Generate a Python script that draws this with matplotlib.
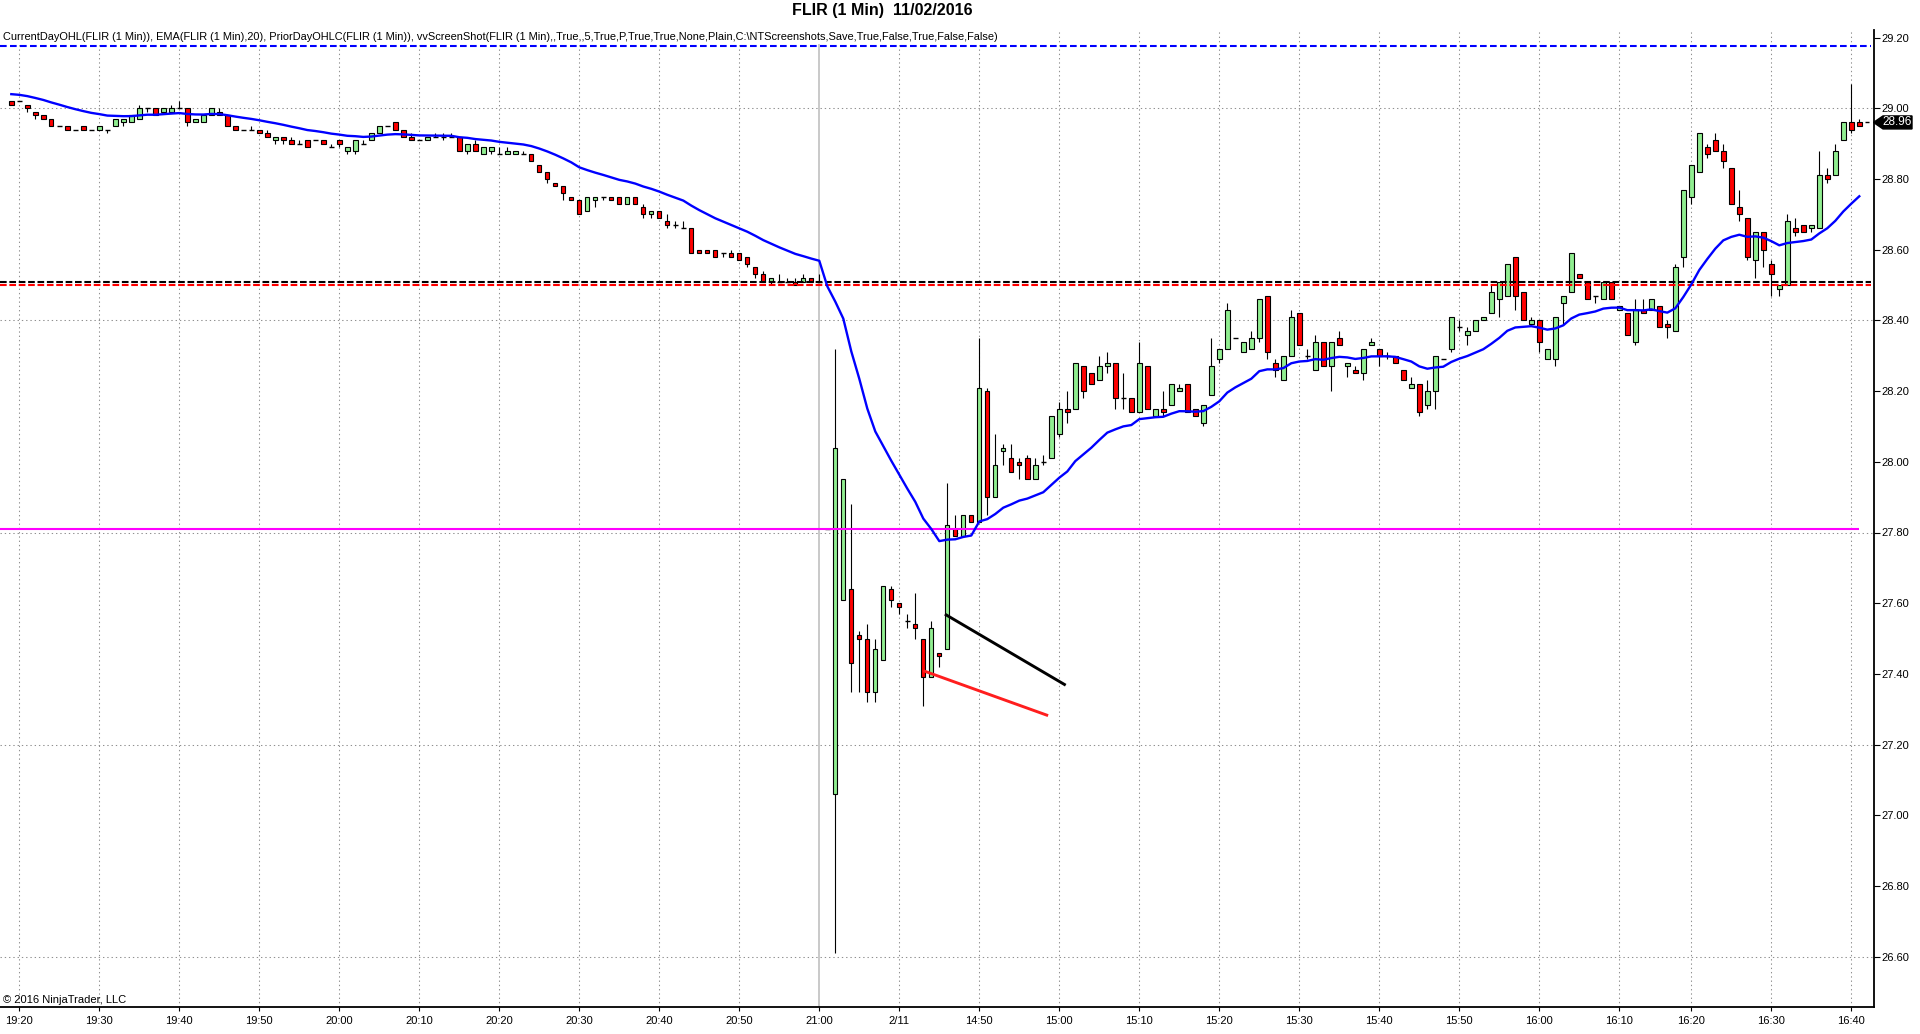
import numpy as np
import matplotlib
matplotlib.use("Agg")
import matplotlib.pyplot as plt
import matplotlib.transforms as mtransforms
from matplotlib.patches import Polygon

plt.rcParams['font.family'] = ['Liberation Sans', 'DejaVu Sans']

# ---------------- data ----------------
opens = [
 29.02, 29.02, 29.01, 28.99, 28.98, 28.97, 28.95, 28.95, 28.94, 28.95,
 28.94, 28.94, 28.94, 28.95, 28.96, 28.96, 28.97, 29.00, 29.00, 28.99,
 28.99, 29.00, 29.00, 28.96, 28.96, 28.98, 28.99, 28.98, 28.95, 28.94,
 28.94, 28.94, 28.93, 28.91, 28.92, 28.91, 28.90, 28.91, 28.91, 28.91,
 28.89, 28.91, 28.88, 28.88, 28.90, 28.91, 28.93, 28.95, 28.96, 28.94,
 28.92, 28.91, 28.91, 28.92, 28.92, 28.92, 28.92, 28.88, 28.90, 28.87,
 28.88, 28.87, 28.87, 28.87, 28.87, 28.87, 28.84, 28.82, 28.79, 28.78,
 28.75, 28.74, 28.71, 28.74, 28.75, 28.75, 28.75, 28.73, 28.75, 28.72,
 28.70, 28.71, 28.68, 28.67, 28.66, 28.66, 28.60, 28.60, 28.60, 28.59,
 28.59, 28.59, 28.58, 28.55, 28.53, 28.51, 28.51, 28.51, 28.51, 28.51,
 28.52, 28.51, 27.81, 27.06, 27.61, 27.64, 27.51, 27.50, 27.35, 27.44,
 27.64, 27.60, 27.55, 27.54, 27.50, 27.39, 27.46, 27.47, 27.81, 27.79,
 27.85, 27.83, 28.20, 27.90, 28.03, 28.01, 28.00, 28.01, 27.95, 28.00,
 28.01, 28.08, 28.15, 28.15, 28.27, 28.25, 28.23, 28.27, 28.28, 28.18,
 28.18, 28.14, 28.27, 28.13, 28.15, 28.16, 28.20, 28.22, 28.15, 28.11,
 28.19, 28.29, 28.32, 28.35, 28.31, 28.32, 28.35, 28.47, 28.28, 28.23,
 28.30, 28.42, 28.30, 28.26, 28.34, 28.27, 28.35, 28.27, 28.26, 28.25,
 28.33, 28.32, 28.30, 28.30, 28.26, 28.21, 28.22, 28.16, 28.20, 28.29,
 28.32, 28.38, 28.36, 28.37, 28.40, 28.42, 28.46, 28.47, 28.58, 28.48,
 28.39, 28.40, 28.29, 28.29, 28.45, 28.48, 28.53, 28.51, 28.47, 28.46,
 28.51, 28.43, 28.42, 28.34, 28.43, 28.43, 28.44, 28.39, 28.37, 28.58,
 28.75, 28.82, 28.89, 28.91, 28.88, 28.83, 28.72, 28.69, 28.57, 28.65,
 28.56, 28.49, 28.50, 28.66, 28.67, 28.66, 28.66, 28.81, 28.81, 28.91,
 28.96, 28.96]
highs = [
 29.02, 29.02, 29.01, 28.99, 28.98, 28.97, 28.95, 28.95, 28.94, 28.95,
 28.94, 28.95, 28.94, 28.97, 28.97, 28.98, 29.01, 29.00, 29.00, 29.00,
 29.01, 29.02, 29.00, 28.97, 28.98, 29.00, 29.00, 28.98, 28.95, 28.94,
 28.95, 28.94, 28.94, 28.92, 28.92, 28.92, 28.91, 28.91, 28.91, 28.91,
 28.90, 28.91, 28.89, 28.91, 28.91, 28.93, 28.95, 28.95, 28.96, 28.94,
 28.93, 28.91, 28.92, 28.93, 28.93, 28.93, 28.92, 28.90, 28.91, 28.89,
 28.89, 28.89, 28.89, 28.88, 28.88, 28.87, 28.84, 28.82, 28.79, 28.78,
 28.75, 28.74, 28.75, 28.75, 28.75, 28.75, 28.75, 28.75, 28.75, 28.73,
 28.71, 28.71, 28.70, 28.68, 28.68, 28.66, 28.60, 28.60, 28.60, 28.59,
 28.60, 28.59, 28.58, 28.55, 28.54, 28.52, 28.53, 28.52, 28.52, 28.53,
 28.52, 28.53, 27.81, 28.32, 27.95, 27.88, 27.52, 27.54, 27.50, 27.65,
 27.65, 27.60, 27.57, 27.63, 27.50, 27.55, 27.46, 27.94, 27.85, 27.85,
 27.85, 28.35, 28.21, 28.08, 28.05, 28.05, 28.01, 28.02, 28.01, 28.02,
 28.13, 28.17, 28.20, 28.28, 28.27, 28.25, 28.30, 28.31, 28.28, 28.25,
 28.18, 28.34, 28.27, 28.15, 28.20, 28.22, 28.22, 28.22, 28.15, 28.16,
 28.35, 28.32, 28.45, 28.35, 28.34, 28.37, 28.46, 28.47, 28.29, 28.30,
 28.43, 28.42, 28.32, 28.36, 28.34, 28.34, 28.37, 28.28, 28.27, 28.32,
 28.35, 28.32, 28.31, 28.30, 28.26, 28.24, 28.22, 28.23, 28.30, 28.29,
 28.41, 28.40, 28.38, 28.40, 28.41, 28.50, 28.51, 28.56, 28.58, 28.48,
 28.41, 28.40, 28.32, 28.41, 28.47, 28.59, 28.53, 28.51, 28.47, 28.51,
 28.51, 28.44, 28.42, 28.46, 28.46, 28.46, 28.44, 28.40, 28.56, 28.77,
 28.84, 28.93, 28.90, 28.93, 28.90, 28.83, 28.77, 28.69, 28.65, 28.65,
 28.57, 28.50, 28.70, 28.69, 28.67, 28.67, 28.88, 28.83, 28.90, 28.96,
 29.07, 28.97]
lows = [
 29.01, 29.02, 28.99, 28.97, 28.97, 28.95, 28.95, 28.94, 28.94, 28.94,
 28.94, 28.94, 28.93, 28.95, 28.95, 28.96, 28.97, 28.99, 28.98, 28.99,
 28.99, 29.00, 28.95, 28.96, 28.96, 28.98, 28.98, 28.95, 28.94, 28.94,
 28.94, 28.93, 28.92, 28.90, 28.90, 28.90, 28.90, 28.89, 28.91, 28.90,
 28.89, 28.89, 28.87, 28.87, 28.90, 28.91, 28.93, 28.95, 28.94, 28.92,
 28.91, 28.91, 28.91, 28.92, 28.91, 28.92, 28.88, 28.87, 28.88, 28.87,
 28.87, 28.87, 28.87, 28.87, 28.87, 28.85, 28.82, 28.79, 28.78, 28.74,
 28.74, 28.70, 28.71, 28.72, 28.74, 28.74, 28.73, 28.73, 28.73, 28.69,
 28.69, 28.69, 28.66, 28.66, 28.66, 28.59, 28.59, 28.59, 28.58, 28.58,
 28.58, 28.57, 28.55, 28.52, 28.51, 28.50, 28.51, 28.51, 28.50, 28.51,
 28.51, 28.51, 27.81, 26.61, 27.61, 27.35, 27.35, 27.32, 27.32, 27.44,
 27.59, 27.57, 27.53, 27.50, 27.31, 27.39, 27.42, 27.47, 27.79, 27.79,
 27.83, 27.83, 27.85, 27.90, 27.99, 27.97, 27.95, 27.95, 27.95, 27.99,
 28.01, 28.07, 28.11, 28.15, 28.18, 28.22, 28.23, 28.25, 28.15, 28.15,
 28.14, 28.14, 28.15, 28.13, 28.13, 28.16, 28.20, 28.14, 28.13, 28.10,
 28.19, 28.28, 28.32, 28.35, 28.31, 28.32, 28.34, 28.29, 28.24, 28.23,
 28.30, 28.33, 28.29, 28.26, 28.27, 28.20, 28.33, 28.24, 28.25, 28.23,
 28.33, 28.27, 28.29, 28.28, 28.23, 28.21, 28.13, 28.15, 28.15, 28.29,
 28.31, 28.37, 28.33, 28.37, 28.40, 28.42, 28.41, 28.47, 28.43, 28.40,
 28.39, 28.31, 28.29, 28.27, 28.39, 28.48, 28.52, 28.46, 28.45, 28.46,
 28.46, 28.43, 28.36, 28.33, 28.42, 28.43, 28.38, 28.35, 28.37, 28.55,
 28.73, 28.82, 28.86, 28.88, 28.83, 28.73, 28.68, 28.57, 28.52, 28.55,
 28.47, 28.47, 28.50, 28.64, 28.65, 28.65, 28.66, 28.79, 28.81, 28.91,
 28.93, 28.95]
closes = [
 29.01, 29.02, 29.00, 28.98, 28.97, 28.95, 28.95, 28.94, 28.94, 28.94,
 28.94, 28.95, 28.94, 28.97, 28.97, 28.98, 29.00, 29.00, 28.98, 29.00,
 29.00, 29.00, 28.96, 28.97, 28.98, 29.00, 28.98, 28.95, 28.94, 28.94,
 28.94, 28.93, 28.92, 28.92, 28.91, 28.90, 28.90, 28.89, 28.91, 28.90,
 28.89, 28.90, 28.89, 28.91, 28.90, 28.93, 28.95, 28.95, 28.94, 28.92,
 28.91, 28.91, 28.92, 28.92, 28.92, 28.92, 28.88, 28.90, 28.88, 28.89,
 28.89, 28.87, 28.88, 28.88, 28.87, 28.85, 28.82, 28.80, 28.78, 28.76,
 28.74, 28.70, 28.75, 28.75, 28.75, 28.74, 28.73, 28.75, 28.73, 28.70,
 28.71, 28.69, 28.67, 28.67, 28.66, 28.59, 28.59, 28.59, 28.58, 28.59,
 28.58, 28.57, 28.56, 28.53, 28.51, 28.52, 28.51, 28.51, 28.50, 28.52,
 28.51, 28.51, 27.81, 28.04, 27.95, 27.43, 27.50, 27.35, 27.47, 27.65,
 27.61, 27.59, 27.55, 27.53, 27.39, 27.53, 27.45, 27.82, 27.79, 27.85,
 27.83, 28.21, 27.90, 27.99, 28.04, 27.97, 27.99, 27.95, 27.99, 28.00,
 28.13, 28.15, 28.14, 28.28, 28.20, 28.22, 28.27, 28.28, 28.18, 28.18,
 28.14, 28.28, 28.15, 28.15, 28.14, 28.22, 28.21, 28.14, 28.13, 28.16,
 28.27, 28.32, 28.43, 28.35, 28.34, 28.35, 28.46, 28.31, 28.26, 28.30,
 28.41, 28.33, 28.30, 28.34, 28.27, 28.34, 28.33, 28.28, 28.25, 28.32,
 28.34, 28.30, 28.30, 28.28, 28.23, 28.22, 28.14, 28.20, 28.30, 28.29,
 28.41, 28.38, 28.37, 28.40, 28.41, 28.48, 28.51, 28.56, 28.47, 28.40,
 28.40, 28.34, 28.32, 28.41, 28.47, 28.59, 28.52, 28.46, 28.47, 28.51,
 28.46, 28.44, 28.36, 28.43, 28.42, 28.46, 28.38, 28.38, 28.55, 28.77,
 28.84, 28.93, 28.87, 28.88, 28.85, 28.73, 28.70, 28.58, 28.65, 28.60,
 28.53, 28.50, 28.68, 28.65, 28.65, 28.67, 28.81, 28.80, 28.88, 28.96,
 28.94, 28.95]

ema_period = 20
ema_start = 29.04            # EMA value at the first visible bar

tick_bars = [1, 11, 21, 31, 41, 51, 61, 71, 81, 91, 101, 111, 121, 131,
             141, 151, 161, 171, 181, 191, 201, 210, 220, 230]
tick_labels = ["19:20", "19:30", "19:40", "19:50", "20:00", "20:10", "20:20",
               "20:30", "20:40", "20:50", "21:00", "2/11", "14:50", "15:00",
               "15:10", "15:20", "15:30", "15:40", "15:50", "16:00", "16:10",
               "16:20", "16:30", "16:40"]
session_break_bar = 101

prior_high = 29.175
prior_close = 28.51
prior_low = 28.50
current_open = 27.81
last_price = 28.96

black_trend = ([116.7, 131.8], [27.569, 27.368])
red_trend = ([114.0, 129.6], [27.409, 27.282])

price_ticks = [26.60, 26.80, 27.00, 27.20, 27.40, 27.60, 27.80, 28.00,
               28.20, 28.40, 28.60, 28.80, 29.00, 29.20]
grid_prices = [26.60, 27.20, 27.80, 28.40, 29.00]

title = "FLIR (1 Min)  11/02/2016"
indicator_label = ("CurrentDayOHL(FLIR (1 Min)), EMA(FLIR (1 Min),20), "
                   "PriorDayOHLC(FLIR (1 Min)), vvScreenShot(FLIR (1 Min),,True,,5,"
                   "True,P,True,True,None,Plain,C:\\NTScreenshots,Save,True,False,"
                   "True,False,False)")
copyright_text = "\u00a9 2016 NinjaTrader, LLC"

# ---------------- figure ----------------
W, H = 1920, 1034
fig = plt.figure(figsize=(W / 100, H / 100), dpi=100)
fig.patch.set_facecolor("white")
ax_left, ax_right, ax_top, ax_bot = 0, 1873.7, 30, 1007.3
ax = fig.add_axes([ax_left / W, 1 - ax_bot / H, (ax_right - ax_left) / W,
                   (ax_bot - ax_top) / H])

o = np.array(opens); h = np.array(highs); l = np.array(lows); c = np.array(closes)
n = len(c)
x = np.arange(n)

px_per_bar = 8.0
x0 = (ax_left - 11.3) / px_per_bar
x1 = (ax_right - 11.3) / px_per_bar
ax.set_xlim(x0, x1)
px_per_price = 353.5
ymin = 26.60 - (ax_bot - 956.7) / px_per_price
ymax = 26.60 + (956.7 - ax_top) / px_per_price
ax.set_ylim(ymin, ymax)

# grid
dot = (0, (1.3, 2.8))
for gp in grid_prices:
    ax.axhline(gp, color="#909090", lw=0.75, ls=dot, zorder=0.5)
for tb in tick_bars:
    if tb == session_break_bar:
        ax.axvline(tb, color="#c0c0c0", lw=1.2, zorder=0.5)
    else:
        ax.axvline(tb, color="#909090", lw=0.75, ls=dot, zorder=0.5)

# candles
ax.vlines(x, l, h, color="black", lw=0.8, zorder=2)
bw = 0.55
up = c > o
dn = c < o
dj = c == o
ax.bar(x[up], (c - o)[up], bottom=o[up], width=bw, color="#90EE90",
       edgecolor="black", linewidth=0.8, zorder=3)
ax.bar(x[dn], (o - c)[dn], bottom=c[dn], width=bw, color="#FF0000",
       edgecolor="black", linewidth=0.8, zorder=3)
ax.hlines(c[dj], x[dj] - bw / 2 - 0.05, x[dj] + bw / 2 + 0.05, color="black",
          lw=1.0, zorder=3)

# EMA
k = 2.0 / (ema_period + 1)
ema = np.empty(n)
ema[0] = ema_start
for i in range(1, n):
    ema[i] = ema[i - 1] + k * (c[i] - ema[i - 1])
ax.plot(x, ema, color="#0000FF", lw=1.7, zorder=6, solid_joinstyle="round")

# indicator levels
line_end = (1870.5 - 11.3) / px_per_bar
ax.hlines(prior_high, x0, line_end, color="#0000FF", lw=1.5,
          linestyles=(0, (3.2, 1.6)), zorder=5)
ax.hlines(prior_close, x0, line_end, color="black", lw=1.5,
          linestyles=(0, (3.2, 1.3)), zorder=5)
ax.hlines(prior_low, x0, line_end, color="#FF0000", lw=1.5,
          linestyles=(0, (3.2, 1.3)), zorder=5)
ax.hlines(current_open, x0, n - 1, color="#FF00FF", lw=1.5, zorder=5)

# drawn trend lines
ax.plot(*black_trend, color="black", lw=2.1, zorder=7, solid_capstyle="butt")
ax.plot(*red_trend, color="#FF1E1E", lw=2.1, zorder=7, solid_capstyle="butt")

# last price dash
ax.hlines(last_price, n - 1 + 0.7, n - 1 + 1.2, color="black", lw=1.0, zorder=6)

# axes styling
for s in ["left", "top"]:
    ax.spines[s].set_visible(False)
for s in ["right", "bottom"]:
    ax.spines[s].set_linewidth(1.3)
    ax.spines[s].set_color("black")
ax.yaxis.tick_right()
ax.set_yticks(price_ticks)
ax.set_yticklabels([f"{v:.2f}" for v in price_ticks])
ax.set_xticks(tick_bars)
ax.set_xticklabels(tick_labels)
ax.tick_params(axis="y", direction="out", length=4.5, width=0.8, pad=1,
               labelsize=8, colors="black")
ax.tick_params(axis="x", direction="out", length=3, width=0.8, pad=3,
               labelsize=8, colors="black")
ax.set_facecolor("white")

# last price marker on price axis
tr = mtransforms.blended_transform_factory(fig.transFigure, ax.transData)
hh = 6.5 / px_per_price
poly = Polygon([(1873.5 / W, last_price), (1883 / W, last_price + hh),
                (1912 / W, last_price + hh), (1912 / W, last_price - hh),
                (1883 / W, last_price - hh)], closed=True, facecolor="black",
               edgecolor="black", transform=tr, clip_on=False, zorder=10)
ax.add_patch(poly)
ax.text(1897.5 / W, last_price, f"{last_price:.2f}", transform=tr, color="white",
        ha="center", va="center", fontsize=8.5, clip_on=False, zorder=11)

# texts
fig.text(882 / W, 1 - 11 / H, title, ha="center", va="center", fontsize=11.5,
         fontweight="bold", color="black")
fig.text(3 / W, 1 - 37 / H, indicator_label, ha="left", va="center", fontsize=7.9,
         color="black", bbox=dict(facecolor="white", edgecolor="none", pad=1.5),
         zorder=20)
fig.text(3 / W, 1 - 1000 / H, copyright_text, ha="left", va="center",
         fontsize=8, color="black", zorder=20)

fig.savefig("out.png", dpi=100, facecolor="white")
